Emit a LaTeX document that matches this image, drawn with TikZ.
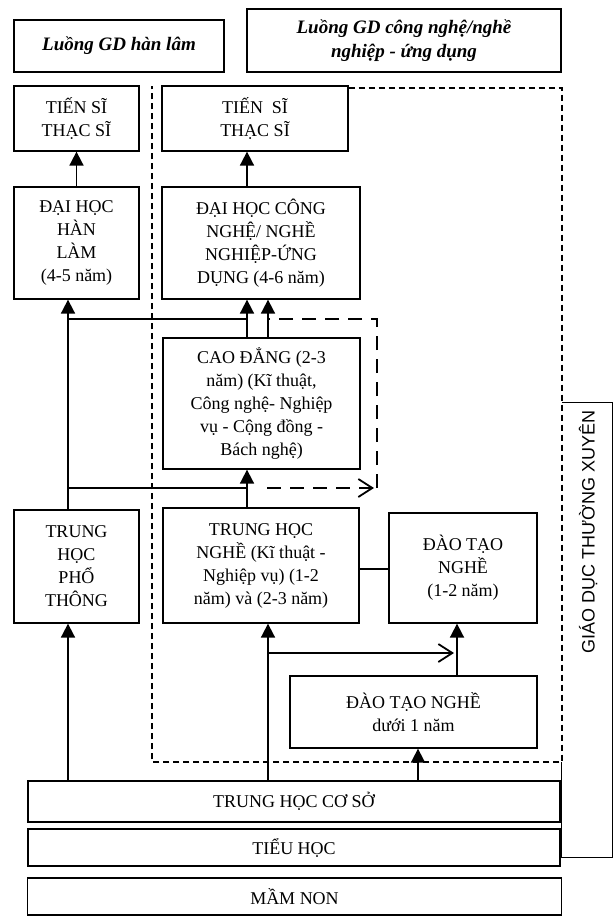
\documentclass[tikz,border=0pt]{standalone}
\usepackage{fontspec}
\setmainfont{Liberation Serif}
\newfontfamily\gdtxfont{Liberation Sans}
\usetikzlibrary{arrows.meta,calc}

\begin{document}
\begin{tikzpicture}[x=0.5pt,y=-0.5pt,font=\fontsize{9}{11.5}\selectfont,
    box/.style={draw,line width=0.65pt,fill=white,align=center,inner sep=1pt},
    headbox/.style={box,font=\fontsize{9.5}{12}\selectfont\bfseries\itshape},
    arr/.style={line width=0.9pt,-{Triangle[width=7pt,length=7pt]}},
    openarr/.style={line width=0.9pt,-{Straight Barb[width=9pt,length=7pt]}},
    dashlink/.style={line width=0.9pt,dash pattern=on 7pt off 4.5pt},
    dasharr/.style={dashlink,-{Straight Barb[width=9pt,length=7pt]}},
    dashframe/.style={line width=0.7pt,dash pattern=on 3pt off 2pt}]
  \useasboundingbox (0,0) rectangle (615,920);
  % two streams
  \node[headbox,minimum width=105pt,minimum height=26pt] (hl) at (119,46) {Luồng GD hàn lâm};
  \node[headbox,minimum width=157pt,minimum height=31.5pt] (ud) at (404,40.5) {Luồng GD công nghệ/nghề\\nghiệp - ứng dụng};
  % academic column
  \node[box,minimum width=62.5pt,minimum height=32.5pt] (ts1) at (76.5,118.5) {TIẾN SĨ\\THẠC SĨ};
  \node[box,minimum width=62.5pt,minimum height=56pt] (dh1) at (76.5,243) {ĐẠI HỌC\\HÀN\\LÀM\\(4-5 năm)};
  \node[box,minimum width=62.5pt,minimum height=56.5pt] (thpt) at (76.5,566.5) {TRUNG\\HỌC\\PHỔ\\THÔNG};
  % applied column
  \node[box,minimum width=93pt,minimum height=32.5pt] (ts2) at (255,118.5) {TIẾN\ \ SĨ\\THẠC SĨ};
  \node[box,minimum width=99pt,minimum height=56pt] (dh2) at (261,243) {ĐẠI HỌC CÔNG\\NGHỆ/ NGHỀ\\NGHIỆP-ỨNG\\DỤNG (4-6 năm)};
  \node[box,minimum width=98.5pt,minimum height=65.5pt] (cd) at (261.5,403.5) {CAO ĐẲNG (2-3\\năm) (Kĩ thuật,\\Công nghệ- Nghiệp\\vụ - Cộng đồng -\\Bách nghệ)};
  \node[box,minimum width=98pt,minimum height=57.5pt] (thn) at (261,565.5) {TRUNG HỌC\\NGHỀ (Kĩ thuật -\\Nghiệp vụ) (1-2\\năm) và (2-3 năm)};
  \node[box,minimum width=74pt,minimum height=55pt] (dtn) at (463,568) {ĐÀO TẠO\\NGHỀ\\(1-2 năm)};
  \node[box,minimum width=123.5pt,minimum height=36pt] (dtn1) at (413.5,712) {ĐÀO TẠO NGHỀ\\dưới 1 năm};
  % common base
  \node[box,minimum width=266pt,minimum height=20.5pt] (thcs) at (294,801.5) {TRUNG HỌC CƠ SỞ};
  \node[box,minimum width=266pt,minimum height=18.5pt] (th) at (294,847.5) {TIỂU HỌC};
  \node[box,minimum width=267pt,minimum height=18.5pt] (mn) at (294.5,896.5) {MẦM NON};

  % columns and rows of the connectors
  \coordinate (c1) at (68,0);
  \coordinate (c2) at (247,0);
  \coordinate (c3) at (268,0);
  \coordinate (c4) at (457,0);
  \coordinate (c5) at (418,0);
  \coordinate (cx) at (377,0);
  \coordinate (r1) at (0,319);
  \coordinate (r2) at (0,488);
  \coordinate (r3) at (0,653);
  \coordinate (r4) at (0,569);

  % frame of the applied stream
  \coordinate (ftl) at (152,86);
  \coordinate (ftr) at (562,88);
  \coordinate (fbr) at (562,762);
  \coordinate (fbl) at (152,762);
  \draw[dashframe] (ts2.east |- ftr) -- (ftr) -- (fbr) -- (fbl) -- (ftl);

  % continuing education
  \node[minimum width=25pt,minimum height=227pt,inner sep=0pt] (gdtx) at (587,630) {};
  \draw[line width=0.65pt] (gdtx.south west |- fbr) -- (gdtx.south west) -- (gdtx.south east)
    -- (gdtx.north east) -- (gdtx.north west);
  \node[rotate=90,font=\gdtxfont\fontsize{9}{11}\selectfont] (gdtxtext) at (588,532) {GIÁO DỤC THƯỜNG XUYÊN};

  % connectors
  \draw[arr] (dh1) -- (ts1);
  \draw[arr] (dh2.north -| c2) -- (ts2.south -| c2);
  \draw[arr] (thpt.north -| c1) -- (dh1.south -| c1);
  \draw[line width=0.9pt] (c1 |- r1) -- (c2 |- r1);
  \draw[arr] (cd.north -| c2) -- (dh2.south -| c2);
  \draw[arr] (cd.north -| c3) -- (dh2.south -| c3);
  \draw[line width=0.9pt] (c1 |- r2) -- (c2 |- r2);
  \draw[arr] (thn.north -| c2) -- (cd.south -| c2);
  \draw[dasharr] ($(c2 |- r2)+(20,0)$) -- ($(cx |- r2)+(-3,0)$);
  \draw[dashlink] (cx |- r2) -- (cx |- r1) -- (c3 |- r1);
  \draw[arr] (thcs.north -| c1) -- (thpt.south -| c1);
  \draw[arr] (thcs.north -| c3) -- (thn.south -| c3);
  \draw[openarr] (c3 |- r3) -- ($(c4 |- r3)+(-3,0)$);
  \draw[arr] (dtn1.north -| c4) -- (dtn.south -| c4);
  \draw[line width=0.65pt] (thn.east |- r4) -- (dtn.west |- r4);
  \draw[arr] (thcs.north -| c5) -- (dtn1.south -| c5);
\end{tikzpicture}
\end{document}
